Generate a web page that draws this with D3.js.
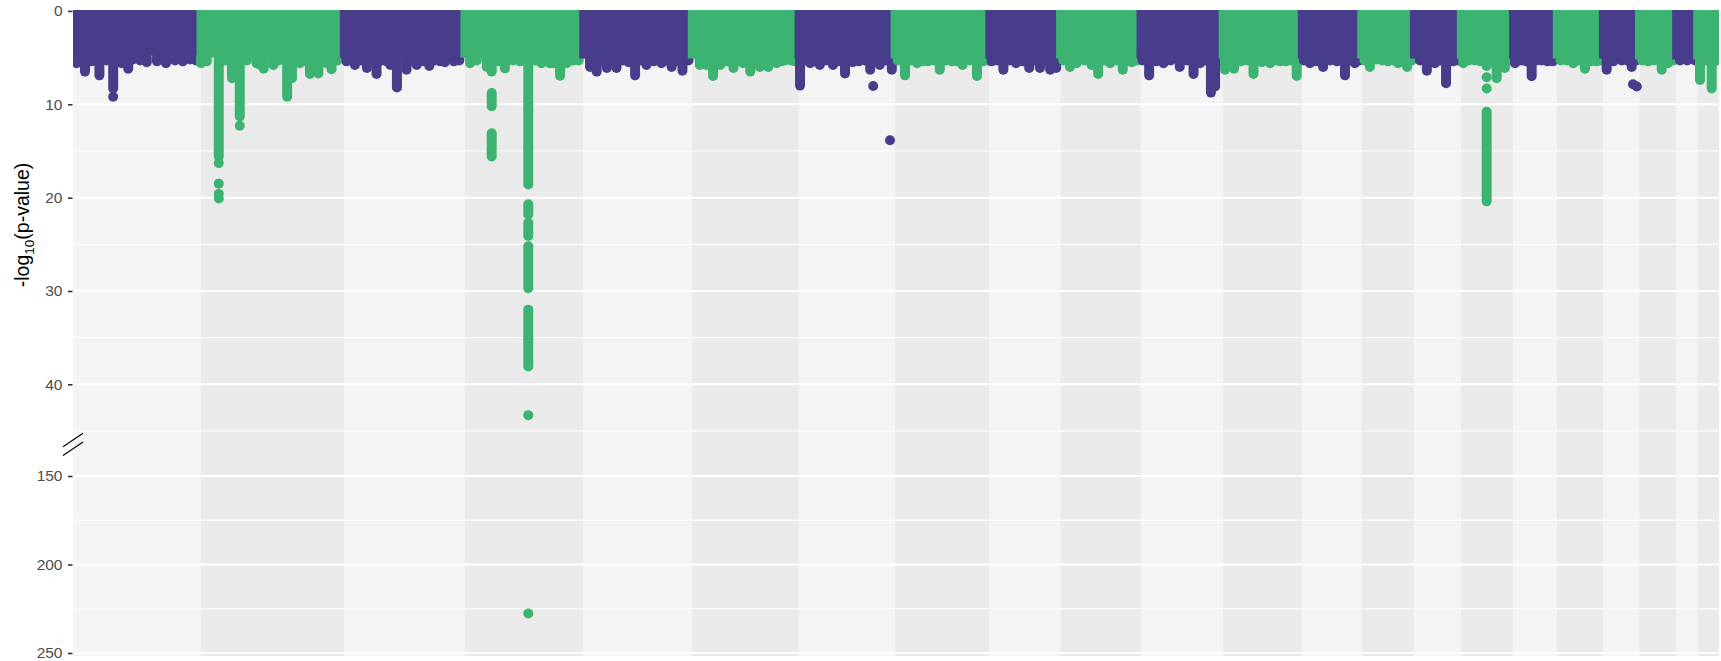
<!DOCTYPE html>
<html><head><meta charset="utf-8">
<script src="https://cdn.jsdelivr.net/npm/d3@7"></script>
<style>
body{margin:0;background:#fff;}
svg{display:block;font-family:"Liberation Sans",Arial,Helvetica,sans-serif;}
</style>
</head><body>
<svg id="chart" width="1721" height="661"></svg>
<script>
// ---------------- data ----------------
const chromosomes = ["1","2","3","4","5","6","7","8","9","10","11","12","13","14","15","16","17","18","19","20","21","22"];
// chromosome lengths (genome units, Mb-like)
const chrLength = [213,239,201,198,181,178,160,158,118,134,137,132,99,88,78,87,73,77,60,62,35,36];
// depth of the dense, overlapping bulk of SNPs for each chromosome (-log10 p)
const massDepth = [4.8,5.0,5.0,5.0,5.1,5.1,5.1,5.1,5.1,5.1,5.1,5.1,5.1,5.1,5.1,5.1,5.1,5.1,5.1,5.2,5.2,5.2];
// contiguous stacks of overlapping SNPs: [chromosome index, position, from -log10p, to -log10p]
const stacks = [
  // chr1
  [0,6,5,5.6],[0,20,5,6.5],[0,31,5,5.4],[0,44,5,6.9],[0,56,5,5.3],[0,67,5,8.3],[0,81,5,5.6],[0,92,5,6.2],[0,100,5,5.2],[0,112,5,5.3],[0,123,5,5.5],[0,140,5,5.4],[0,155,5,5.6],[0,170,5,5.3],[0,183,5,5.4],[0,195,5,5.2],[0,205,5,5.3],
  // chr2
  [1,0.4,5,5.6],[1,10,5,5.4],[1,30,5,15.6],[1,40,5,5.3],[1,52,5,7.2],[1,65,5,11.3],[1,77,5,5.3],[1,93,5,5.6],[1,99,5,5.8],[1,105,5,6.2],[1,121,5,5.8],[1,130,5,5.3],[1,144,5,9.2],[1,152,5,7.2],[1,165,5,5.6],[1,172,5,5.4],[1,182,5,6.75],[1,196,5,6.7],[1,210,5,5.6],[1,218,5,6.25],[1,228,5,5.3],
  // chr3
  [2,4,5,5.4],[2,18,5,5.8],[2,28,5,5.3],[2,38,5,6.1],[2,54,5,6.75],[2,62,5,5.3],[2,71,5,5.4],[2,77,5,5.8],[2,88,5,8.2],[2,104,5,6.3],[2,112,5,5.3],[2,121,5,5.8],[2,132,5,5.4],[2,142,5,5.9],[2,150,5,5.3],[2,160,5,5.4],[2,168,5,5.5],[2,183,5,5.4],[2,192,5,5.3],
  // chr4
  [3,9,5,5.6],[3,20,5,5.3],[3,37,5,6.0],[3,45,5,6.5],[3,45,8.8,10.2],[3,45,13.1,15.6],[3,56,5,5.4],[3,67,5,6.15],[3,80,5,5.3],[3,92,5,5.4],
  [3,106,5,18.6],[3,106,20.7,21.8],[3,106,22.7,24.1],[3,106,25.2,29.7],[3,106,32.0,38.1],
  [3,118,5,5.3],[3,128,5,5.6],[3,142,5,5.6],[3,148,5,5.6],[3,159,5,6.95],[3,170,5,5.6],[3,181,5,5.3],[3,190,5,5.3],
  // chr5
  [4,11,5,6.0],[4,22,5,6.5],[4,30,5,5.4],[4,39,5,6.1],[4,47,5,5.3],[4,55,5,6.1],[4,65,5,5.3],[4,75,5,5.5],[4,86,5,6.9],[4,95,5,5.3],[4,105,5,5.8],[4,117,5,5.4],[4,130,5,5.6],[4,138,5,5.3],[4,147,5,6.0],[4,156,5,5.4],[4,165,5,6.4],[4,175,5,5.3],
  // chr6
  [5,13,5,5.8],[5,24,5,5.8],[5,35,5,6.96],[5,47,5,5.8],[5,58,5,5.4],[5,69,5,6.1],[5,78,5,5.3],[5,85,5,5.6],[5,97,5,6.5],[5,105,5,5.3],[5,113,5,6.0],[5,120,5,5.4],[5,127,5,6.0],[5,134,5,5.3],[5,141,5,5.6],[5,148,5,5.4],[5,155,5,5.3],[5,165,5,5.3],[5,172,5,5.4],
  // chr7
  [6,2,5,8.0],[6,10,5,5.3],[6,19,5,5.6],[6,27,5,5.4],[6,35,5,5.8],[6,46,5,5.3],[6,57,5,5.8],[6,66,5,5.4],[6,77,5,6.7],[6,86,5,5.4],[6,90,5,5.5],[6,100,5,5.4],[6,110,5,5.3],[6,119,5,6.3],[6,127,5,5.4],[6,135,5,5.8],[6,145,5,5.3],[6,155,5,6.3],
  // chr8
  [7,5,5,5.3],[7,17,5,6.9],[7,27,5,5.3],[7,37,5,5.6],[7,46,5,5.4],[7,55,5,5.4],[7,65,5,5.3],[7,75,5,6.3],[7,85,5,5.3],[7,95,5,5.4],[7,104,5,5.4],[7,113,5,5.8],[7,125,5,5.3],[7,137,5,6.96],[7,147,5,5.4],[7,155,5,5.3],
  // chr9
  [8,3.5,5,5.4],[8,13,5,5.3],[8,23,5,6.3],[8,33,5,5.3],[8,44,5,5.6],[8,55,5,5.4],[8,66,5,6.1],[8,75,5,5.3],[8,84,5,6.1],[8,92,5,5.4],[8,101,5,6.3],[8,111,5,6.1],
  // chr10
  [9,5,5,5.3],[9,16,5,6.0],[9,27,5,5.6],[9,40,5,5.3],[9,52,5,5.8],[9,63,5,6.75],[9,73,5,5.3],[9,83,5,5.6],[9,94,5,5.3],[9,104,5,6.3],[9,112,5,5.4],[9,119,5,5.5],[9,128,5,5.3],
  // chr11
  [10,3,5,5.3],[10,14,5,6.9],[10,26,5,5.4],[10,38,5,5.6],[10,50,5,5.3],[10,65,5,6.0],[10,77,5,5.3],[10,88,5,6.75],[10,99,5,5.6],[10,108,5,5.3],[10,117,5,8.4],[10,124,5,8.1],[10,132,5,5.4],
  // chr12
  [11,3.5,5,6.3],[11,18.5,5,6.2],[11,30,5,5.4],[11,40,5,5.3],[11,51,5,6.75],[11,65,5,5.5],[11,78.5,5,5.6],[11,87,5,5.3],[11,95,5,5.4],[11,105,5,5.4],[11,114,5,5.3],[11,123,5,6.96],
  // chr13
  [12,3,5,5.3],[12,13,5,5.6],[12,24,5,5.4],[12,35,5,6.0],[12,47,5,5.3],[12,58,5,5.4],[12,71.5,5,6.9],[12,80,5,5.3],[12,88,5,5.6],[12,95,5,5.3],
  // chr14
  [13,5,5,5.3],[13,14,5,6.0],[13,26,5,5.2],[13,35,5,5.3],[13,44,5,5.4],[13,53,5,5.3],[13,61,5,5.6],[13,68,5,5.4],[13,76,5,6.0],[13,84,5,5.3],
  // chr15
  [14,9.5,5,5.3],[14,21,5,6.4],[14,34.5,5,5.6],[14,44,5,5.3],[14,53,5,7.75],[14,64.5,5,5.4],[14,72,5,5.3],
  // chr16
  [15,3.7,5,5.6],[15,13,5,5.3],[15,23,5,5.3],[15,32,5,5.4],[15,42.7,5,5.9],[15,42.7,10.8,20.4],[15,50,5,5.3],[15,59.4,5,7.2],[15,66,5,5.3],[15,73,5,6.1],[15,82,5,5.3],
  // chr17
  [16,3,5,5.6],[16,14,5,5.3],[16,22,5,5.4],[16,30.7,5,7.0],[16,39,5,5.3],[16,47.4,5,5.3],[16,57,5,5.4],[16,66,5,5.4],
  // chr18
  [17,6,5,5.3],[17,16,5,5.3],[17,27,5,5.6],[17,37,5,5.3],[17,46.6,5,6.2],[17,56,5,5.4],[17,66,5,5.4],[17,73,5,5.3],
  // chr19
  [18,5.8,5,6.3],[18,17,5,5.4],[18,30.8,5,5.3],[18,40,5,5.3],[18,47.4,5,6.0],[18,55,5,5.3],
  // chr20
  [19,5,5,5.3],[19,15,5,5.4],[19,25,5,5.3],[19,37.5,5,6.3],[19,48,5,5.6],[19,57,5,5.3],
  // chr21
  [20,6,5,5.3],[20,18,5,5.3],[20,31,5,5.3],
  // chr22
  [21,4.3,5,7.4],[21,14,5,5.3],[21,23.8,5,8.3],[21,32,5,5.3]
];
// isolated SNPs: [chromosome index, position, -log10 p]
const hits = [
  [0,67,9.2],
  [1,30,16.3],[1,30,18.5],[1,30,19.6],[1,30,20.1],[1,65,12.3],
  [3,106,43.3],[3,106,227.7],
  [6,124,8.05],[6,152,13.85],
  [10,117,8.75],
  [15,42.7,7.1],[15,42.7,8.3],
  [18,49.6,7.85],[18,56,8.1]
];
const topTicks = [0,10,20,30,40];
const topMinor = [5,15,25,35,45];
const bottomTicks = [150,200,250];
const bottomMinor = [175,225];
const chrColors = ["#483D8B","#3CB371"];
const bandColors = ["#F4F4F4","#EAEAEA"];

// ---------------- layout ----------------
const svg = d3.select("#chart");
const L = 73, R = 1719;
const topPanel = [10, 445], botPanel = [447, 656];
const dotR = 5;

const cum = [0, ...d3.cumsum(chrLength)];
const total = cum[cum.length-1];
const x = d3.scaleLinear().domain([0,total]).range([L,R]);
const yTop = d3.scaleLinear().domain([-0.1,46.5]).range(topPanel);
const yBot = d3.scaleLinear().domain([133.6,251.7]).range(botPanel);

const defs = svg.append("defs");
defs.append("clipPath").attr("id","clipTop").append("rect")
  .attr("x",L).attr("y",topPanel[0]).attr("width",R-L).attr("height",topPanel[1]-topPanel[0]);
defs.append("clipPath").attr("id","clipBot").append("rect")
  .attr("x",L).attr("y",botPanel[0]).attr("width",R-L).attr("height",botPanel[1]-botPanel[0]);

// chromosome background bands
svg.append("g").selectAll("rect").data(chromosomes).join("rect")
  .attr("x",(d,i)=>x(cum[i]))
  .attr("width",(d,i)=>x(cum[i+1])-x(cum[i]))
  .attr("y",topPanel[0]).attr("height",botPanel[1]-topPanel[0])
  .attr("fill",(d,i)=>bandColors[i%2]);

// gridlines
function grid(scale, major, minor){
  const g = svg.append("g");
  g.selectAll("line.mi").data(minor).join("line").attr("class","mi")
    .attr("x1",L).attr("x2",R).attr("y1",d=>scale(d)).attr("y2",d=>scale(d))
    .attr("stroke","#fff").attr("stroke-width",1);
  g.selectAll("line.ma").data(major).join("line").attr("class","ma")
    .attr("x1",L).attr("x2",R).attr("y1",d=>scale(d)).attr("y2",d=>scale(d))
    .attr("stroke","#fff").attr("stroke-width",2);
}
grid(yTop, topTicks, topMinor);
grid(yBot, bottomTicks, bottomMinor);

// points
const gTop = svg.append("g").attr("clip-path","url(#clipTop)");
const gBot = svg.append("g").attr("clip-path","url(#clipBot)");
const topMax = yTop.domain()[1];

chromosomes.forEach((c,i)=>{
  const col = chrColors[i%2];
  const g = gTop.append("g");
  g.append("rect")
    .attr("x", x(cum[i]) - dotR*0.85)
    .attr("width", x(cum[i+1]) - x(cum[i]) + dotR*0.85)
    .attr("y", yTop(yTop.domain()[0]))
    .attr("height", yTop(massDepth[i]) - yTop(yTop.domain()[0]))
    .attr("fill", col);
  g.selectAll("line").data(stacks.filter(s=>s[0]===i)).join("line")
    .attr("x1",d=>x(cum[i]+d[1])).attr("x2",d=>x(cum[i]+d[1]))
    .attr("y1",d=>yTop(d[2])).attr("y2",d=>yTop(d[3]))
    .attr("stroke",col).attr("stroke-width",dotR*2).attr("stroke-linecap","round");
  g.selectAll("circle").data(hits.filter(h=>h[0]===i && h[2]<=topMax)).join("circle")
    .attr("cx",d=>x(cum[i]+d[1])).attr("cy",d=>yTop(d[2])).attr("r",dotR).attr("fill",col);
  gBot.selectAll("circle.c"+i).data(hits.filter(h=>h[0]===i && h[2]>=yBot.domain()[0])).join("circle")
    .attr("class","c"+i)
    .attr("cx",d=>x(cum[i]+d[1])).attr("cy",d=>yBot(d[2])).attr("r",dotR).attr("fill",col);
});

// axes
function axis(scale, ticks){
  const g = svg.append("g").attr("transform",`translate(${L-0.5},0)`)
    .call(d3.axisLeft(scale).tickValues(ticks).tickSize(4.5).tickPadding(5.5));
  g.select(".domain").remove();
  g.selectAll(".tick line").attr("stroke","#333").attr("stroke-width",1.6);
  g.selectAll(".tick text").attr("fill","#4D4D4D").attr("font-size",15.5)
    .attr("font-family",'"Liberation Sans",Arial,Helvetica,sans-serif');
}
axis(yTop, topTicks);
axis(yBot, bottomTicks);

// axis break marks
const bk = svg.append("g").attr("stroke","#000").attr("stroke-width",1.2);
[440, 448.7].forEach(cy=>{
  bk.append("line").attr("x1",L-10).attr("y1",cy+6.7).attr("x2",L+10).attr("y2",cy-6.7);
});

// y-axis title
const title = svg.append("text")
  .attr("transform",`translate(29,225) rotate(-90)`)
  .attr("text-anchor","middle").attr("font-size",19.5).attr("fill","#000");
title.append("tspan").text("-log");
title.append("tspan").text("10").attr("font-size",13.5).attr("dy",4.5);
title.append("tspan").text("(p-value)").attr("dy",-4.5);
</script>
</body></html>
